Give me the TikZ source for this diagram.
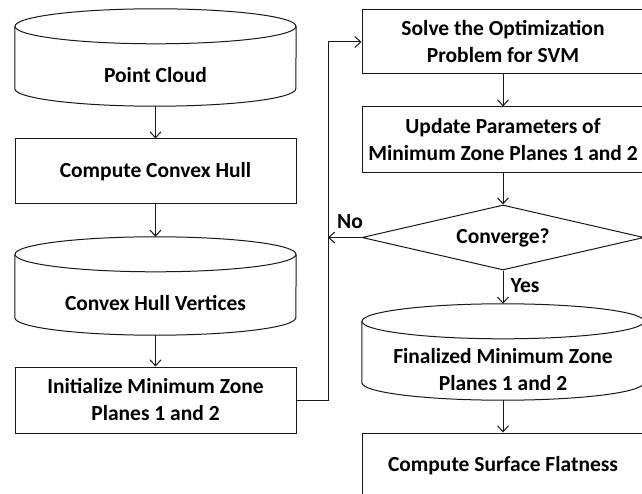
\documentclass[tikz,border=0pt]{standalone}
\usepackage{fontspec}
\setmainfont{Carlito}
\usetikzlibrary{shapes.geometric,arrows.meta}

% Cylinder outline around a body node: top ellipse above the node, bottom arc at its south edge
\newcommand\drawcylinder[3]{%
  \draw[flow] ([yshift=#3]#1.north) ellipse[x radius=#2, y radius=#3];
  \draw[flow] ([yshift=#3]#1.north west) -- ([yshift=#3]#1.south west)
    arc[start angle=180, end angle=360, x radius=#2, y radius=#3]
    -- ([yshift=#3]#1.north east);
}

\begin{document}
\begin{tikzpicture}[x=1pt,y=-1pt,
  flow/.style={line width=1pt, draw=black!90},
  txt/.style={font=\fontsize{21.5}{27}\selectfont\bfseries, align=center, text=black},
  procbox/.style={flow, txt, rectangle, inner sep=0pt, minimum width=281pt},
  cylbody/.style={txt, rectangle, inner sep=0pt, minimum width=281pt},
  decision/.style={flow, txt, diamond, inner sep=0pt, aspect=4.34,
                   minimum width=282pt, minimum height=65pt},
  link/.style={flow, -{Straight Barb[length=6pt,width=11pt,line width=1pt]}},
  lbl/.style={txt}]

\useasboundingbox (0,0) rectangle (642,494);
\clip (0,0) rectangle (642,494);
\fill[white] (0,0) rectangle (642,494);

% left column
\node[cylbody, minimum height=62pt] (cloud) at (155.5,75) {Point Cloud};
\node[procbox, minimum height=65pt] (hull) at (155.5,171.5) {Compute Convex Hull};
\node[cylbody, minimum height=63pt] (verts) at (155.5,303.5) {Convex Hull Vertices};
\node[procbox, minimum height=66pt] (init) at (155.5,400) {Initialize Minimum Zone\\Planes 1 and 2};

% right column
\node[procbox, minimum width=282pt, minimum height=64pt] (svm) at (503,42) {Solve the Optimization\\Problem for SVM};
\node[procbox, minimum width=282pt, minimum height=66pt] (update) at (503,140) {Update Parameters of\\Minimum Zone Planes 1 and 2};
\node[decision] (conv) at (503,237.5) {Converge?};
\node[cylbody, minimum width=282pt, minimum height=61pt] (final) at (503,369.5) {Finalized Minimum Zone\\Planes 1 and 2};
\node[procbox, minimum width=282pt, minimum height=66pt] (flat) at (503,466) {Compute Surface Flatness};

\drawcylinder{cloud}{140.5pt}{17.5pt}
\drawcylinder{verts}{140.5pt}{17.5pt}
\drawcylinder{final}{141pt}{17.5pt}

\coordinate (vertstop) at ([yshift=35pt]verts.north);
\coordinate (finaltop) at ([yshift=35pt]final.north);
\coordinate (bend) at (328,400);
\coordinate (merge) at (bend |- conv.west);

% connectors
\draw[link] (cloud.south) -- (hull.north);
\draw[link] (hull.south) -- (vertstop);
\draw[link] (verts.south) -- (init.north);
\draw[link] (init.east) -- (bend) |- (svm.west);
\draw[link] (svm.south) -- (update.north);
\draw[link] (update.south) -- (conv.north);
\draw[link] (conv.west) -- (merge);
\draw[link] (conv.south) -- (finaltop);
\draw[link] (final.south) -- (flat.north);

\node[lbl] (no) at (350,222) {No};
\node[lbl] (yes) at (525,286) {Yes};
\end{tikzpicture}
\end{document}
